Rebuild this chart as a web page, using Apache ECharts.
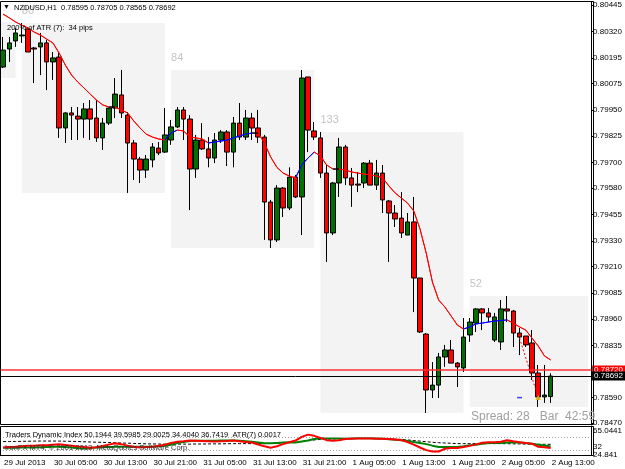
<!DOCTYPE html>
<html>
<head>
<meta charset="utf-8">
<script src="https://cdn.jsdelivr.net/npm/echarts@6/dist/echarts.min.js"></script>
<style>
  html, body { margin: 0; padding: 0; background: #fff; }
  #chart { width: 625px; height: 469px; }
</style>
</head>
<body>
<div id="chart"></div>
<script>
const symbolName = "NZDUSD";
const period = "H1";

// one tick label every 8 bars, first bar = 29 Jul 21:00
const timeLabels = ["29 Jul 2013", "30 Jul 05:00", "30 Jul 13:00", "30 Jul 21:00", "31 Jul 05:00", "31 Jul 13:00",
  "31 Jul 21:00", "1 Aug 05:00", "1 Aug 13:00", "1 Aug 21:00", "2 Aug 05:00", "2 Aug 13:00"];
const labelStep = 8;

const priceTicks = [0.78470, 0.78590, 0.78835, 0.78960, 0.79085, 0.79210, 0.79330, 0.79455, 0.79580,
  0.79700, 0.79825, 0.79950, 0.80075, 0.80195, 0.80320, 0.80445];
const tdiTicks = [24.841, 32, 50, 65.0441];
const tdiLevels = [50, 32];

const open = [0.80152, 0.80237, 0.80275, 0.80299, 0.80332, 0.80242, 0.80247, 0.80266, 0.80176, 0.80199,
  0.79864, 0.79935, 0.79920, 0.79906, 0.79954, 0.79911, 0.79817, 0.79887, 0.79958, 0.80020,
  0.79925, 0.79793, 0.79717, 0.79665, 0.79713, 0.79769, 0.79750, 0.79807, 0.79869, 0.79949,
  0.79906, 0.79670, 0.79807, 0.79765, 0.79722, 0.79807, 0.79845, 0.79750, 0.79887, 0.79821,
  0.79911, 0.79864, 0.79821, 0.79514, 0.79335, 0.79580, 0.79486, 0.79632, 0.79538, 0.80105,
  0.79850, 0.79817, 0.79651, 0.79368, 0.79604, 0.79774, 0.79628, 0.79599, 0.79604, 0.79698,
  0.79594, 0.79651, 0.79519, 0.79462, 0.79438, 0.79358, 0.79420, 0.79155, 0.78890, 0.78626,
  0.78649, 0.78782, 0.78815, 0.78753, 0.78730, 0.78886, 0.78942, 0.79009, 0.78990, 0.78862,
  0.78853, 0.79009, 0.78999, 0.78895, 0.78881, 0.78848, 0.78706, 0.78593, 0.78595];
const high = [0.80294, 0.80294, 0.80336, 0.80360, 0.80341, 0.80247, 0.80313, 0.80280, 0.80223, 0.80223,
  0.79939, 0.79963, 0.79963, 0.79982, 0.79996, 0.79996, 0.79911, 0.79963, 0.80100, 0.80138,
  0.79939, 0.79807, 0.79727, 0.79736, 0.79793, 0.79798, 0.79958, 0.79902, 0.79963, 0.79963,
  0.79925, 0.79831, 0.79887, 0.79821, 0.79840, 0.79854, 0.79854, 0.79916, 0.79982, 0.79949,
  0.79935, 0.79949, 0.79831, 0.79524, 0.79594, 0.79585, 0.79678, 0.79642, 0.80138, 0.80105,
  0.79892, 0.79845, 0.79689, 0.79609, 0.79817, 0.79784, 0.79675, 0.79656, 0.79703, 0.79713,
  0.79713, 0.79689, 0.79524, 0.79500, 0.79561, 0.79462, 0.79538, 0.79155, 0.78895, 0.78758,
  0.78801, 0.78839, 0.78862, 0.78758, 0.78966, 0.78966, 0.79013, 0.79013, 0.79013, 0.78990,
  0.79051, 0.79070, 0.79004, 0.78919, 0.78881, 0.78909, 0.78744, 0.78744, 0.78705];
const low = [0.80147, 0.80176, 0.80247, 0.80266, 0.80223, 0.80076, 0.80114, 0.80043, 0.80091, 0.79817,
  0.79793, 0.79807, 0.79807, 0.79817, 0.79807, 0.79798, 0.79760, 0.79878, 0.79911, 0.79911,
  0.79557, 0.79618, 0.79604, 0.79628, 0.79678, 0.79736, 0.79746, 0.79784, 0.79864, 0.79807,
  0.79476, 0.79628, 0.79760, 0.79678, 0.79698, 0.79793, 0.79684, 0.79678, 0.79807, 0.79807,
  0.79807, 0.79793, 0.79335, 0.79297, 0.79325, 0.79443, 0.79476, 0.79533, 0.79358, 0.79750,
  0.79807, 0.79628, 0.79231, 0.79358, 0.79538, 0.79594, 0.79491, 0.79561, 0.79580, 0.79594,
  0.79571, 0.79462, 0.79231, 0.79396, 0.79344, 0.79358, 0.78994, 0.78895, 0.78517, 0.78588,
  0.78588, 0.78735, 0.78753, 0.78640, 0.78711, 0.78853, 0.78900, 0.78909, 0.78947, 0.78853,
  0.78815, 0.78947, 0.78829, 0.78791, 0.78829, 0.78673, 0.78546, 0.78565, 0.78565];
const close = [0.80232, 0.80266, 0.80313, 0.80303, 0.80223, 0.80237, 0.80266, 0.80176, 0.80195, 0.79864,
  0.79935, 0.79925, 0.79906, 0.79954, 0.79906, 0.79817, 0.79887, 0.79958, 0.80024, 0.79935,
  0.79793, 0.79717, 0.79665, 0.79717, 0.79774, 0.79746, 0.79831, 0.79869, 0.79949, 0.79906,
  0.79670, 0.79807, 0.79765, 0.79722, 0.79807, 0.79845, 0.79750, 0.79887, 0.79821, 0.79911,
  0.79864, 0.79821, 0.79514, 0.79335, 0.79580, 0.79486, 0.79632, 0.79538, 0.80100, 0.79854,
  0.79821, 0.79651, 0.79368, 0.79604, 0.79774, 0.79628, 0.79594, 0.79594, 0.79698, 0.79594,
  0.79651, 0.79524, 0.79462, 0.79434, 0.79368, 0.79420, 0.79155, 0.78900, 0.78626, 0.78649,
  0.78782, 0.78815, 0.78753, 0.78735, 0.78876, 0.78947, 0.79009, 0.78990, 0.78971, 0.78971,
  0.79009, 0.78999, 0.78895, 0.78876, 0.78839, 0.78706, 0.78593, 0.78602, 0.78692];

// moving average on the price pane
const ma = [0.80402, 0.80384, 0.80365, 0.80350, 0.80336, 0.80317, 0.80303, 0.80284, 0.80266, 0.80218,
  0.80161, 0.80114, 0.80081, 0.80053, 0.80024, 0.79996, 0.79973, 0.79963, 0.79963, 0.79949,
  0.79935, 0.79897, 0.79864, 0.79835, 0.79821, 0.79812, 0.79807, 0.79840, 0.79854, 0.79850,
  0.79821, 0.79817, 0.79812, 0.79793, 0.79798, 0.79802, 0.79807, 0.79817, 0.79826, 0.79835,
  0.79840, 0.79840, 0.79793, 0.79727, 0.79678, 0.79651, 0.79637, 0.79628, 0.79689, 0.79722,
  0.79750, 0.79732, 0.79689, 0.79670, 0.79670, 0.79665, 0.79656, 0.79651, 0.79646, 0.79642,
  0.79637, 0.79628, 0.79590, 0.79557, 0.79533, 0.79509, 0.79472, 0.79387, 0.79273, 0.79136,
  0.79051, 0.79018, 0.78976, 0.78933, 0.78914, 0.78924, 0.78938, 0.78942, 0.78947, 0.78952,
  0.78954, 0.78957, 0.78942, 0.78924, 0.78909, 0.78871, 0.78834, 0.78787, 0.78768];

// Traders Dynamic Index sub window
const tdiRsi = [35.3, 35.9, 36.3, 37.0, 37.5, 37.8, 38.2, 38.5, 39.2, 39.6,
  38.8, 37.8, 36.8, 35.9, 34.9, 35.6, 37.3, 39.2, 41.1, 39.9,
  37.8, 36.3, 35.3, 35.9, 36.3, 37.8, 39.2, 41.4, 43.1, 43.9,
  44.9, 44.7, 44.4, 43.9, 43.5, 43.8, 44.2, 44.9, 43.8, 42.8,
  42.1, 39.5, 37.0, 34.9, 37.0, 39.9, 42.5, 44.9, 50.0, 53.1,
  51.4, 48.5, 45.4, 44.7, 45.4, 47.1, 47.5, 47.8, 47.8, 47.8,
  47.5, 47.4, 47.1, 46.4, 45.5, 42.8, 39.2, 35.2, 31.6, 29.6,
  29.6, 33.5, 34.5, 34.5, 36.0, 37.5, 39.6, 41.8, 42.5, 42.5,
  43.1, 45.4, 43.8, 42.4, 41.4, 40.6, 36.3, 35.6, 34.4];
const tdiSignal = [34.9, 34.9, 35.0, 35.2, 35.3, 35.3, 35.6, 35.9, 36.2, 36.3,
  35.9, 35.2, 34.5, 33.9, 34.6, 35.2, 35.6, 36.0, 36.3, 36.3,
  36.3, 36.3, 36.3, 36.3, 36.3, 37.0, 37.8, 39.2, 41.4, 42.8,
  44.2, 44.5, 44.5, 44.7, 44.7, 44.8, 44.9, 44.9, 44.5, 43.8,
  43.1, 42.1, 41.1, 41.1, 41.6, 42.1, 42.4, 42.1, 43.5, 44.9,
  47.1, 48.1, 47.8, 47.8, 47.8, 47.5, 47.8, 48.0, 48.1, 48.0,
  47.8, 47.4, 46.8, 46.1, 45.4, 44.2, 42.8, 41.6, 39.9, 37.8,
  35.9, 35.9, 35.9, 35.9, 37.0, 38.2, 39.2, 40.3, 41.4, 41.6,
  41.6, 42.1, 42.5, 42.1, 41.4, 40.3, 39.2, 38.0, 36.7];
const tdiBase = [43.5, 43.5, 43.6, 43.8, 43.9, 44.1, 44.2, 44.2, 44.2, 44.1,
  43.9, 43.8, 43.5, 43.2, 42.9, 42.6, 42.4, 42.1, 41.8, 41.5,
  41.2, 40.9, 40.6, 40.3, 40.2, 40.1, 39.9, 39.9, 39.9, 39.9,
  39.9, 40.1, 40.1, 40.2, 40.3, 40.3, 40.5, 40.6, 40.6, 40.6,
  40.6, 40.6, 40.6, 40.9, 41.4, 41.8, 42.1, 42.5, 43.5, 44.7,
  45.7, 46.4, 46.8, 47.2, 47.5, 47.8, 47.8, 47.8, 47.8, 47.8,
  47.5, 47.2, 46.9, 46.6, 46.4, 45.7, 44.9, 44.1, 43.2, 42.5,
  41.9, 41.5, 41.1, 40.6, 40.6, 40.6, 40.6, 40.6, 40.6, 40.6,
  40.6, 40.5, 40.3, 40.2, 40.0, 39.9, 39.8, 39.7, 39.6];

// first bar of each day (30 Jul .. 2 Aug); 29 Jul is mostly off screen
const dayFirstBar = [3, 27, 51, 75];
const prevDayHigh = 0.80365;
const prevDayLow = 0.80100;

const askPrice = 0.78720;
const tradeOpen = [83, 0.78872];
const tradeClose = [86, 0.78590];

const atrNote = "200% of ATR (7):  34 pips";
const spreadNote = "Spread: 28   Bar  42:59";
const tdiHeader = "Traders Dynamic Index 50.1944 39.5985 29.0025 34.4040 36.7419  ATR(7) 0.0017";
const brokerNote = "IronFX MT4, \u00a9 2001-2013, MetaQuotes Software Corp.";

const PAD_RIGHT = 6;
const nBars = open.length;
const last = nBars - 1;
const font = '"Liberation Sans", Arial, sans-serif';

const cat = (bar) => String(bar);
const categories = [];
for (let k = 0; k < nBars + PAD_RIGHT; k++) categories.push(cat(k));
const padded = (fn) => categories.map((c) => {
  const i = +c;
  return i < nBars ? fn(i) : "-";
});

const candleData = padded((i) => [open[i], close[i], low[i], high[i]]);

// day range boxes
const boxes = [];
dayFirstBar.forEach((s, d) => {
  const isLast = d === dayFirstBar.length - 1;
  const e = isLast ? last : dayFirstBar[d + 1] - 1;
  const hi = Math.max(...high.slice(s, e + 1));
  const lo = Math.min(...low.slice(s, e + 1));
  boxes.push([
    { name: String(Math.round((hi - lo) * 10000)), xAxis: cat(s), yAxis: hi },
    { xAxis: cat(isLast ? last + PAD_RIGHT : e), yAxis: lo },
  ]);
});

// MA colour: blue rising, red falling, black flat
const maPieces = [];
for (let i = 1; i < nBars; i++) {
  const d = ma[i] - ma[i - 1];
  const color = d > 0.000005 ? "#0000ff" : d < -0.000005 ? "#ff0000" : "#000000";
  const prev = maPieces[maPieces.length - 1];
  if (prev && prev.color === color) prev.lte = i;
  else maPieces.push({ gt: i - 1, lte: i, color });
}

const isLabelBar = (index) => index <= last && index % labelStep === 0;

const titleText = symbolName + "," + period + "  " +
  [open, high, low, close].map((a) => a[last].toFixed(5)).join(" ");

const smallText = (id, x, y, text, extra) => ({
  id, type: "text", left: x, top: y, z: 100, silent: true,
  style: Object.assign({ text, fontSize: 7.5, fontFamily: font, fill: "#000" }, extra || {}),
});

const priceLabel = (bg) => ({
  show: true, position: "end", distance: 1, formatter: (p) => p.value.toFixed(5),
  backgroundColor: bg, color: "#fff", padding: [1, 2, 0, 2], fontSize: 8, fontFamily: font,
});

const chart = echarts.init(document.getElementById("chart"), null, { renderer: "canvas" });

const option = {
  animation: false,
  backgroundColor: "#ffffff",
  grid: [
    { left: 0, top: 2, width: 593, height: 422 },
    { left: 0, top: 426, width: 593, height: 29 },
  ],
  xAxis: [
    { type: "category", gridIndex: 0, data: categories, boundaryGap: true, show: false },
    {
      type: "category", gridIndex: 1, data: categories, boundaryGap: true,
      axisLine: { lineStyle: { color: "#000", width: 1 } },
      axisTick: { interval: isLabelBar, alignWithLabel: true, length: 4, lineStyle: { color: "#000" } },
      axisLabel: {
        interval: isLabelBar, align: "left", margin: 4, padding: [0, 0, 0, 1],
        fontSize: 8, fontFamily: font, color: "#000",
        formatter: (value) => timeLabels[(+value) / labelStep],
      },
      splitLine: { show: false },
    },
  ],
  yAxis: [
    {
      type: "value", gridIndex: 0, position: "right", min: 0.784652, max: 0.804592,
      splitLine: { show: false },
      axisLine: { show: true, lineStyle: { color: "#000" } },
      axisTick: { show: true, length: 3, customValues: priceTicks, lineStyle: { color: "#000" } },
      axisLabel: {
        customValues: priceTicks, margin: 2, fontSize: 8, fontFamily: font, color: "#000",
        showMinLabel: true, showMaxLabel: true,
        formatter: (v) => v.toFixed(5),
      },
    },
    {
      type: "value", gridIndex: 1, position: "right", min: tdiTicks[0], max: tdiTicks[tdiTicks.length - 1],
      splitLine: { show: false },
      axisLine: { show: true, lineStyle: { color: "#000" } },
      axisTick: { show: false },
      axisLabel: {
        customValues: tdiTicks, margin: 2, fontSize: 8, fontFamily: font, color: "#000",
        showMinLabel: true, showMaxLabel: true,
        formatter: (v) => {
          if (v === tdiTicks[tdiTicks.length - 1]) return "{top|" + v + "}";
          if (v === 32) return "{up|" + v + "}";
          return String(v);
        },
        rich: {
          top: { fontSize: 8, fontFamily: font, padding: [10, 0, 0, 0] },
          up: { fontSize: 8, fontFamily: font, padding: [0, 0, 6, 0] },
        },
      },
    },
  ],
  visualMap: {
    show: false, type: "piecewise", seriesIndex: 2, dimension: 0,
    pieces: maPieces, outOfRange: { color: "#ff0000" },
  },
  series: [
    {
      name: "days", type: "line", xAxisIndex: 0, yAxisIndex: 0, z: 1,
      data: padded(() => "-"), silent: true,
      markArea: {
        silent: true,
        itemStyle: { color: "#f3f3f3" },
        label: {
          show: true, position: [0, -18], formatter: "{b}",
          color: "#c4c4c4", fontSize: 11, fontFamily: font,
        },
        data: boxes,
      },
      markLine: {
        silent: true, symbol: ["none", "none"], precision: 5,
        data: [
          { yAxis: askPrice, lineStyle: { color: "#ff3030", width: 1.5, type: "solid" }, label: priceLabel("#ff0000") },
          { yAxis: close[last], lineStyle: { color: "#000", width: 1, type: "solid" }, label: priceLabel("#000") },
        ],
      },
    },
    {
      name: symbolName, type: "candlestick", xAxisIndex: 0, yAxisIndex: 0, z: 3,
      barWidth: 5, data: candleData,
      itemStyle: {
        color: "#007000", color0: "#ff0000",
        borderColor: "#000000", borderColor0: "#000000", borderWidth: 1,
      },
      markLine: {
        silent: true, symbol: ["none", "none"], precision: 5, label: { show: false },
        data: [[
          { coord: [cat(tradeOpen[0]), tradeOpen[1]], lineStyle: { color: "#ff0000", width: 1, type: [2, 2] } },
          { coord: [cat(tradeClose[0]), tradeClose[1]] },
        ]],
      },
      markPoint: {
        silent: true, label: { show: false },
        data: [
          { coord: [cat(tradeClose[0]), tradeClose[1]], symbol: "triangle", symbolSize: 5, itemStyle: { color: "#e0b000" } },
          { coord: [cat(tradeOpen[0]), tradeClose[1]], symbol: "rect", symbolSize: [5, 1.5], itemStyle: { color: "#4040ff" } },
        ],
      },
    },
    {
      name: "MA", type: "line", xAxisIndex: 0, yAxisIndex: 0, z: 4,
      data: padded((i) => ma[i]), showSymbol: false, lineStyle: { width: 1 },
    },
    {
      name: "TDI base", type: "line", xAxisIndex: 1, yAxisIndex: 1, z: 3,
      data: padded((i) => tdiBase[i]), showSymbol: false,
      lineStyle: { color: "#000", width: 1, type: [3, 2] }, itemStyle: { color: "#000" },
    },
    {
      name: "TDI signal", type: "line", xAxisIndex: 1, yAxisIndex: 1, z: 4,
      data: padded((i) => tdiSignal[i]), showSymbol: false,
      lineStyle: { color: "#008000", width: 2 }, itemStyle: { color: "#008000" },
    },
    {
      name: "TDI RSI", type: "line", xAxisIndex: 1, yAxisIndex: 1, z: 5,
      data: padded((i) => tdiRsi[i]), showSymbol: false,
      lineStyle: { color: "#ff0000", width: 2 }, itemStyle: { color: "#ff0000" },
      markLine: {
        silent: true, symbol: ["none", "none"], label: { show: false },
        lineStyle: { color: "#a0a0a0", width: 1, type: [1, 2] },
        data: tdiLevels.map((v) => ({ yAxis: v })),
      },
    },
  ],
  graphic: {
    elements: [
      { id: "frameMain", type: "rect", z: 90, silent: true, shape: { x: 0.5, y: 1.5, width: 593, height: 423 }, style: { fill: "none", stroke: "#000", lineWidth: 1 } },
      { id: "frameSub", type: "rect", z: 90, silent: true, shape: { x: 0.5, y: 426.5, width: 593, height: 29 }, style: { fill: "none", stroke: "#000", lineWidth: 1 } },
      smallText("arrow", 3, 4, "\u25bc", { fontSize: 7 }),
      smallText("title", 14, 4, titleText),
      smallText("atr", 7, 24, atrNote),
      smallText("spread", 471, 411, spreadNote, { fontSize: 12, fill: "#a0a0a0" }),
      smallText("tdi", 5, 431, tdiHeader),
      smallText("broker", 5, 444, brokerNote, { fill: "#303030" }),
    ],
  },
};

chart.setOption(option);

// 29 Jul box starts before the first visible bar, so it runs from the pane edge
const prevTop = chart.convertToPixel({ yAxisIndex: 0 }, prevDayHigh);
const prevBottom = chart.convertToPixel({ yAxisIndex: 0 }, prevDayLow);
const prevRight = chart.convertToPixel({ xAxisIndex: 0 }, cat(dayFirstBar[0] - 1));
chart.setOption({
  graphic: {
    elements: [{
      id: "prevDay", type: "rect", z: 0, silent: true,
      shape: { x: 1, y: prevTop, width: prevRight - 1, height: prevBottom - prevTop },
      style: { fill: "#f3f3f3" },
    }],
  },
});
</script>
</body>
</html>
